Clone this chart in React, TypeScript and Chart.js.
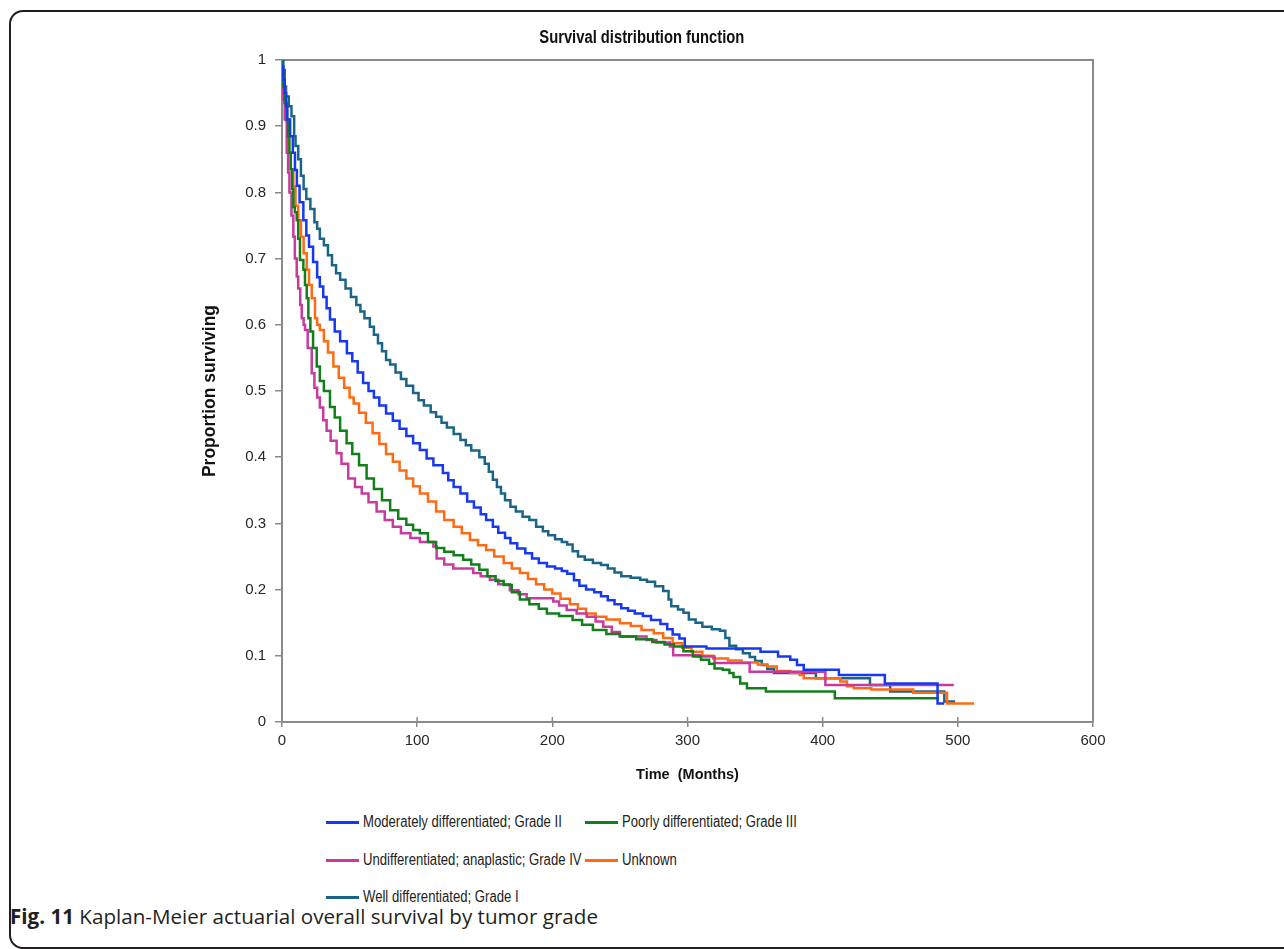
import React, { useEffect, useRef } from 'react';
import { Chart, registerables } from 'chart.js';

Chart.register(...registerables);

const chartTitle = 'Survival distribution function';
const xAxisTitle = 'Time  (Months)';
const yAxisTitle = 'Proportion surviving';
const xTicks = [0, 100, 200, 300, 400, 500, 600];
const yTicks = [0, 0.1, 0.2, 0.3, 0.4, 0.5, 0.6, 0.7, 0.8, 0.9, 1];

const seriesLabels = [
  'Moderately differentiated; Grade II',
  'Poorly differentiated; Grade III',
  'Undifferentiated; anaplastic; Grade IV',
  'Unknown',
  'Well differentiated; Grade I',
];
const seriesColors = ['#1538F0', '#11801A', '#C83A9E', '#FF6B14', '#1A6587'];

// [time in months, proportion surviving]
const moderatelyGrade2: [number, number][] = [
  [0, 0.99], [1, 0.97], [2, 0.95], [3, 0.93], [4, 0.91], [6, 0.885], [8, 0.86], [9.6, 0.834], [11, 0.81],
  [13, 0.785], [15.8, 0.758], [18, 0.735], [20, 0.718], [23, 0.695], [26, 0.672], [28, 0.658], [30.5, 0.642],
  [33, 0.625], [35.5, 0.608], [39, 0.59], [43, 0.575], [48, 0.557], [52, 0.545], [56, 0.528], [60, 0.512],
  [64, 0.5], [68, 0.49], [72, 0.478], [77, 0.466], [82, 0.455], [87, 0.443], [92, 0.432], [97, 0.421],
  [102, 0.411], [107, 0.398], [112, 0.388], [119, 0.376], [123, 0.365], [127, 0.355], [132, 0.345],
  [137, 0.333], [142, 0.324], [147, 0.314], [151, 0.305], [156, 0.295], [160, 0.286], [165, 0.278],
  [169, 0.27], [174, 0.262], [180, 0.255], [185, 0.247], [190, 0.24], [196, 0.235], [202, 0.232],
  [207, 0.228], [211, 0.224], [216, 0.214], [220, 0.206], [225, 0.2], [231, 0.196], [236, 0.19],
  [241, 0.184], [246, 0.178], [251, 0.172], [256, 0.168], [261, 0.164], [267, 0.16], [273, 0.154],
  [280, 0.148], [285, 0.14], [289, 0.132], [294, 0.126], [298, 0.114], [314, 0.111], [354, 0.106],
  [367, 0.099], [376, 0.094], [381, 0.086], [386, 0.079], [412, 0.071], [446, 0.058], [485, 0.028], [490, 0.028],
];

const poorlyGrade3: [number, number][] = [
  [0, 0.985], [1, 0.96], [2, 0.935], [3.5, 0.909], [4.5, 0.885], [5.5, 0.86], [6.5, 0.835], [7.5, 0.805],
  [8.4, 0.778], [9.5, 0.77], [10.9, 0.758], [12, 0.73], [13.3, 0.698], [15.8, 0.683], [17, 0.66], [18.3, 0.64],
  [19.5, 0.61], [21, 0.59], [23, 0.565], [25.7, 0.537], [28, 0.515], [31, 0.5], [35.5, 0.476], [39, 0.46],
  [43, 0.44], [47.8, 0.421], [52, 0.405], [57, 0.388], [62.6, 0.368], [68, 0.352], [74, 0.335], [80, 0.32],
  [86, 0.307], [92, 0.298], [97, 0.29], [102, 0.285], [108, 0.272], [114, 0.263], [120, 0.257], [127, 0.252],
  [134, 0.245], [140, 0.238], [146, 0.23], [152, 0.22], [158, 0.213], [164, 0.207], [170, 0.196], [176, 0.185],
  [183, 0.178], [190, 0.171], [196, 0.164], [205, 0.16], [215, 0.154], [222, 0.147], [230, 0.139], [240, 0.133],
  [250, 0.129], [262, 0.125], [274, 0.121], [283, 0.117], [290, 0.114], [297, 0.107], [304, 0.099], [310, 0.094],
  [316, 0.088], [320, 0.081], [326, 0.079], [331, 0.074], [334, 0.068], [339, 0.058], [344, 0.051], [358, 0.046],
  [409, 0.036], [486, 0.036],
];

const undifferentiatedGrade4: [number, number][] = [
  [0, 0.97], [1, 0.94], [2, 0.91], [3.5, 0.86], [4.5, 0.83], [5.5, 0.8], [7, 0.765], [8.4, 0.733], [9.5, 0.7],
  [10.9, 0.673], [12, 0.655], [13.5, 0.63], [14.6, 0.61], [16, 0.6], [17, 0.592], [19, 0.565], [22, 0.527],
  [24, 0.505], [26, 0.49], [28, 0.475], [30.5, 0.456], [33, 0.44], [36, 0.425], [40.4, 0.406], [44, 0.39],
  [49, 0.368], [54, 0.355], [59, 0.345], [64, 0.332], [70, 0.318], [76, 0.305], [82, 0.295], [88, 0.285],
  [95, 0.278], [102, 0.272], [112, 0.265], [114.4, 0.247], [120, 0.238], [126.7, 0.232], [141.5, 0.225],
  [147, 0.22], [153.8, 0.215], [160, 0.208], [168.6, 0.199], [175, 0.193], [181, 0.187], [200.7, 0.182],
  [205, 0.176], [210.6, 0.169], [218, 0.164], [225.4, 0.159], [232, 0.152], [237.7, 0.144], [244, 0.136],
  [250, 0.129], [269.7, 0.124], [277, 0.12], [287, 0.114], [289.4, 0.101], [309, 0.099], [320, 0.089],
  [346, 0.076], [402, 0.056], [497, 0.056],
];

const unknownGrade: [number, number][] = [
  [0, 0.975], [1, 0.955], [2.2, 0.935], [3, 0.91], [4, 0.885], [5, 0.86], [6.5, 0.835], [8.4, 0.809], [10, 0.78],
  [12, 0.758], [14, 0.733], [16, 0.708], [18.3, 0.683], [20, 0.66], [22, 0.64], [24.4, 0.61], [26, 0.6],
  [28, 0.592], [31, 0.575], [34, 0.558], [38, 0.537], [42, 0.52], [46, 0.505], [50, 0.49], [53, 0.481],
  [57, 0.467], [62, 0.452], [67, 0.436], [72, 0.42], [77, 0.405], [82, 0.393], [87, 0.38], [92, 0.368],
  [97, 0.356], [102, 0.345], [108, 0.333], [114, 0.318], [120, 0.305], [127, 0.295], [133, 0.285],
  [139, 0.275], [145, 0.267], [151, 0.26], [157, 0.25], [164, 0.24], [170, 0.232], [176, 0.225], [182, 0.216],
  [188, 0.208], [194, 0.2], [200, 0.194], [206, 0.186], [213, 0.178], [219, 0.171], [225, 0.164], [232, 0.159],
  [240, 0.155], [250, 0.149], [258, 0.145], [266, 0.139], [275, 0.134], [282, 0.127], [289, 0.119],
  [296, 0.112], [303, 0.106], [311, 0.1], [319, 0.096], [330, 0.093], [340, 0.09], [352, 0.087], [359, 0.084],
  [366, 0.077], [376, 0.074], [383, 0.071], [386, 0.066], [413, 0.061], [418, 0.054], [423, 0.051],
  [436, 0.049], [467, 0.044], [492, 0.028], [512, 0.028],
];

const wellGrade1: [number, number][] = [
  [0, 1.0], [1, 0.985], [2, 0.96], [3, 0.945], [5, 0.93], [7, 0.915], [9, 0.885], [10, 0.87], [12, 0.85],
  [14, 0.825], [16, 0.805], [18, 0.79], [21, 0.775], [24, 0.755], [26, 0.745], [28, 0.73], [31, 0.72],
  [34, 0.705], [37, 0.69], [40, 0.678], [43, 0.668], [47, 0.655], [51, 0.642], [55, 0.63], [58, 0.62],
  [61, 0.61], [65, 0.597], [68, 0.585], [71, 0.572], [74, 0.56], [77, 0.547], [80, 0.54], [84, 0.528],
  [88, 0.518], [92, 0.508], [97, 0.497], [101, 0.486], [105, 0.478], [110, 0.468], [114, 0.461], [118, 0.452],
  [122, 0.445], [127, 0.435], [132, 0.426], [136, 0.418], [140, 0.41], [146, 0.4], [150, 0.39], [153, 0.378],
  [156, 0.366], [159, 0.355], [162, 0.345], [165, 0.335], [169, 0.325], [173, 0.318], [178, 0.31], [183, 0.305],
  [188, 0.295], [193, 0.288], [197, 0.282], [202, 0.276], [207, 0.272], [211, 0.268], [215, 0.258], [219, 0.25],
  [224, 0.245], [230, 0.24], [236, 0.237], [241, 0.232], [246, 0.226], [251, 0.22], [258, 0.218], [265, 0.215],
  [270, 0.212], [276, 0.205], [282, 0.198], [286, 0.185], [288, 0.175], [293, 0.17], [297, 0.165], [301, 0.155],
  [306, 0.15], [311, 0.144], [318, 0.14], [324, 0.138], [328, 0.127], [331, 0.115], [336, 0.11], [341, 0.104],
  [346, 0.098], [350, 0.092], [355, 0.086], [359, 0.08], [364, 0.074], [395, 0.066], [435, 0.056], [450, 0.046],
  [490, 0.031], [498, 0.031],
];

const seriesData = [moderatelyGrade2, poorlyGrade3, undifferentiatedGrade4, unknownGrade, wellGrade1];

const SANS = "'Liberation Sans', Arial, sans-serif";

const framePlugin = {
  id: 'frame',
  beforeDatasetsDraw(chart: any) {
    const { ctx, chartArea, scales } = chart;
    const { left, top, right, bottom } = chartArea;
    ctx.save();
    ctx.strokeStyle = '#8a8a8a';
    ctx.lineWidth = 2;
    ctx.beginPath();
    ctx.moveTo(left, top);
    ctx.lineTo(right, top);
    ctx.lineTo(right, bottom);
    ctx.stroke();
    // small inner part of the x-axis tick marks (they cross the axis)
    ctx.lineWidth = 1.5;
    ctx.beginPath();
    scales.x.ticks.forEach((t: any) => {
      const px = scales.x.getPixelForValue(t.value);
      ctx.moveTo(px, bottom);
      ctx.lineTo(px, bottom - 5);
    });
    ctx.stroke();
    ctx.restore();
  },
};

const legendLayout = [
  { x: 326, y: 822 },
  { x: 585, y: 822 },
  { x: 326, y: 860 },
  { x: 585, y: 860 },
  { x: 326, y: 897 },
];

export default function App() {
  const ref = useRef<HTMLCanvasElement>(null);

  useEffect(() => {
    const canvas = ref.current!;
    const datasets = seriesData.map((pts, i) => ({
      label: seriesLabels[i],
      data: pts.map(([x, y]) => ({ x, y })),
      borderColor: seriesColors[i],
      backgroundColor: seriesColors[i],
      borderWidth: 2.5,
      stepped: true,
      pointRadius: 0,
      fill: false,
    }));
    const chart = new Chart(canvas, {
      type: 'line',
      data: { datasets },
      options: {
        responsive: false,
        animation: false,
        devicePixelRatio: 1,
        layout: { padding: { left: 0, right: 191, top: 60, bottom: 0 } },
        plugins: {
          legend: { display: false },
          tooltip: { enabled: false },
          title: { display: false },
        },
        scales: {
          x: {
            type: 'linear',
            min: 0,
            max: 600,
            afterBuildTicks: (s: any) => {
              s.ticks = xTicks.map((v) => ({ value: v }));
            },
            ticks: {
              color: '#262626',
              font: { family: SANS, size: 15 },
              padding: 5,
              callback: (v: any) => String(v),
            },
            grid: { drawOnChartArea: false, drawTicks: true, tickLength: 5, color: '#8a8a8a', lineWidth: 1.5 },
            border: { display: true, color: '#8a8a8a', width: 2 },
            title: {
              display: true,
              text: xAxisTitle,
              color: '#111',
              font: { family: SANS, size: 14.5, weight: 'bold' },
              padding: { top: 0, bottom: 16 },
            },
            afterFit: (s: any) => {
              s.height = 78;
            },
          },
          y: {
            type: 'linear',
            min: 0,
            max: 1,
            afterBuildTicks: (s: any) => {
              s.ticks = yTicks.map((v) => ({ value: v }));
            },
            ticks: {
              color: '#262626',
              font: { family: SANS, size: 15 },
              padding: 9,
              callback: (v: any) => String(v),
            },
            grid: { drawOnChartArea: false, drawTicks: true, tickLength: 7, color: '#8a8a8a', lineWidth: 1.5 },
            border: { display: true, color: '#8a8a8a', width: 2 },
            title: {
              display: true,
              text: yAxisTitle,
              color: '#111',
              font: { family: SANS, size: 17.5, weight: 'bold' },
              padding: { top: 200, bottom: 0 },
            },
            afterFit: (s: any) => {
              s.width = 282;
            },
          },
        },
      } as any,
      plugins: [framePlugin],
    });
    return () => chart.destroy();
  }, []);

  return (
    <div
      style={{
        position: 'fixed',
        left: 0,
        top: 0,
        width: 1284,
        height: 949,
        background: '#fff',
        overflow: 'hidden',
      }}
    >
      <div
        style={{
          position: 'absolute',
          left: 9,
          top: 10,
          width: 1300,
          height: 939,
          border: '2px solid #231f20',
          borderRadius: 14,
          boxSizing: 'border-box',
        }}
      />
      <canvas
        ref={ref}
        width={1284}
        height={800}
        style={{ position: 'absolute', left: 0, top: 0, width: 1284, height: 800 }}
      />
      <div
        style={{
          position: 'absolute',
          left: 0,
          top: 25,
          width: 1284,
          height: 24,
          lineHeight: '24px',
          textAlign: 'center',
          fontFamily: SANS,
          fontSize: 18,
          fontWeight: 'bold',
          color: '#111',
          whiteSpace: 'nowrap',
          transform: 'scaleX(0.82)',
          transformOrigin: '641px 50%',
        }}
      >
        {chartTitle}
      </div>
      {seriesLabels.map((label, i) => (
        <div key={label}>
          <div
            style={{
              position: 'absolute',
              left: legendLayout[i].x,
              top: legendLayout[i].y - 1,
              width: 33,
              height: 2.5,
              background: seriesColors[i],
            }}
          />
          <div
            style={{
              position: 'absolute',
              left: legendLayout[i].x + 37,
              top: legendLayout[i].y - 11,
              height: 22,
              lineHeight: '22px',
              fontFamily: SANS,
              fontSize: 16,
              color: '#222',
              whiteSpace: 'nowrap',
              transform: 'scaleX(0.82)',
              transformOrigin: 'left center',
            }}
          >
            {label}
          </div>
        </div>
      ))}
      <div
        style={{
          position: 'absolute',
          left: 10,
          top: 903,
          height: 27,
          lineHeight: '27px',
          fontFamily: "'Open Sans', sans-serif",
          fontSize: 20.6,
          color: '#231f20',
          whiteSpace: 'nowrap',
        }}
      >
        <b>Fig. 11</b> Kaplan-Meier actuarial overall survival by tumor grade
      </div>
    </div>
  );
}
